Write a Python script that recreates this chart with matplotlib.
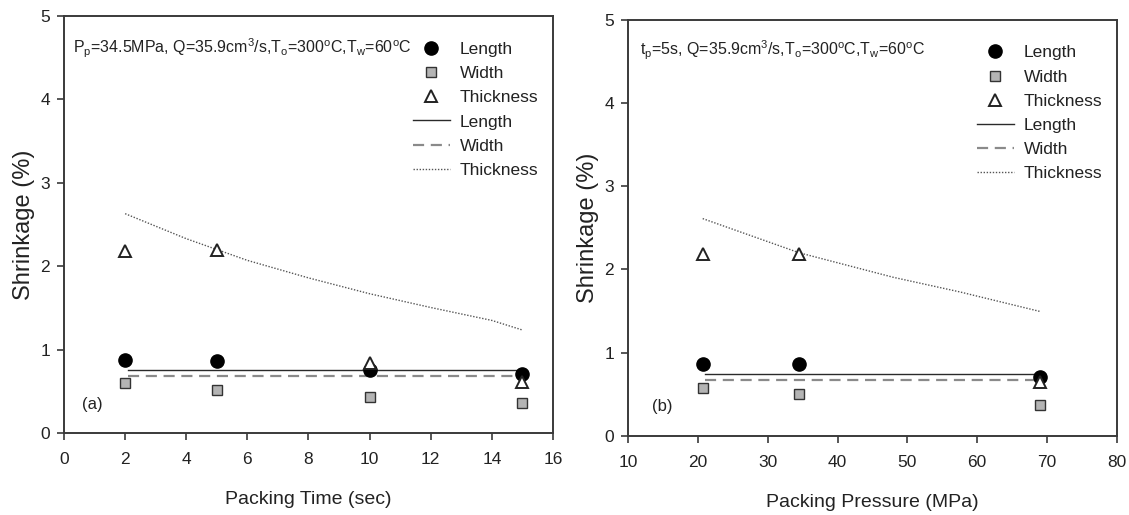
import matplotlib
matplotlib.use("Agg")
import matplotlib.pyplot as plt
from matplotlib.lines import Line2D

plt.rcParams['font.family'] = ['Liberation Sans', 'DejaVu Sans']
plt.rcParams['mathtext.default'] = 'regular'

# ---- data: panel (a) packing time ----
time_x = [2, 5, 10, 15]
time_length = [0.87, 0.86, 0.76, 0.71]
time_width = [0.60, 0.51, 0.43, 0.36]
time_thick = [2.18, 2.19, 0.84, 0.61]
time_line_x = [2.1, 15]
time_length_fit = [0.75, 0.75]
time_width_fit = [0.68, 0.68]
time_thick_fit_x = [2, 4, 6, 8, 10, 12, 14, 15]
time_thick_fit = [2.63, 2.33, 2.07, 1.86, 1.67, 1.505, 1.35, 1.235]

# ---- data: panel (b) packing pressure ----
pres_x = [20.7, 34.5, 69.0]
pres_length = [0.86, 0.86, 0.71]
pres_width = [0.58, 0.50, 0.37]
pres_thick = [2.19, 2.19, 0.65]
pres_line_x = [21.0, 69.0]
pres_length_fit = [0.74, 0.74]
pres_width_fit = [0.67, 0.67]
pres_thick_fit_x = [20.7, 34.5, 48.0, 57.5, 69.0]
pres_thick_fit = [2.61, 2.20, 1.905, 1.73, 1.495]

legend_labels = ['Length', 'Width', 'Thickness', 'Length', 'Width', 'Thickness']

fig = plt.figure(figsize=(11.29, 5.15), dpi=100)
ax1 = fig.add_axes([0.0567, 0.1592, 0.4331, 0.8097])
ax2 = fig.add_axes([0.5562, 0.1534, 0.4331, 0.8087])

spine_c = '#3a3a3a'
sq_face = '#b4b4b4'


def draw(ax, x, L, W, T, lx, lfit, wfit, tx, tfit):
    ax.plot(lx, lfit, color='#2a2a2a', lw=1.0, ls='-', zorder=2)
    ax.plot(lx, wfit, color='#8a8a8a', lw=1.6, ls=(0, (5, 3)), zorder=2)
    ax.plot(tx, tfit, color='#555555', lw=1.0, ls=(0, (1, 1.2)), zorder=2)
    ax.plot(x, W, ls='none', marker='s', ms=7.5, mfc=sq_face, mec='#333333', mew=1.0, zorder=3)
    ax.plot(x, L, ls='none', marker='o', ms=9.5, mfc='black', mec='black', zorder=4)
    ax.plot(x, T, ls='none', marker='^', ms=8, mfc='white', mec='#222222', mew=1.4, zorder=5)
    for s in ax.spines.values():
        s.set_color(spine_c)
        s.set_linewidth(1.4)
    ax.tick_params(direction='out', length=5, width=1.2, color=spine_c,
                   labelsize=12.5, labelcolor='#222222')
    ax.tick_params(axis='x', pad=9)
    ax.tick_params(axis='y', pad=5)
    ax.set_ylim(0, 5)
    ax.set_yticks([0, 1, 2, 3, 4, 5])

    handles = [
        Line2D([], [], ls='none', marker='o', ms=9.5, mfc='black', mec='black'),
        Line2D([], [], ls='none', marker='s', ms=7.5, mfc=sq_face, mec='#333333', mew=1.0),
        Line2D([], [], ls='none', marker='^', ms=8, mfc='white', mec='#222222', mew=1.4),
        Line2D([], [], color='#2a2a2a', lw=1.0, ls='-'),
        Line2D([], [], color='#8a8a8a', lw=1.6, ls=(0, (5, 3))),
        Line2D([], [], color='#555555', lw=1.0, ls=(0, (1, 1.2))),
    ]
    ax.legend(handles, legend_labels, loc='upper left', bbox_to_anchor=(0.714, 0.938),
              frameon=False, borderpad=0, borderaxespad=0, handlelength=2.1,
              handletextpad=0.6, labelspacing=0.52, fontsize=12.5, labelcolor='#222222')


draw(ax1, time_x, time_length, time_width, time_thick, time_line_x,
     time_length_fit, time_width_fit, time_thick_fit_x, time_thick_fit)
ax1.set_xlim(0, 16)
ax1.set_xticks(range(0, 17, 2))
ax1.set_xlabel('Packing Time (sec)', fontsize=14, color='#222222', labelpad=17)
ax1.set_ylabel('Shrinkage (%)', fontsize=17, color='#222222', labelpad=4)
ax1.text(0.019, 0.923, r'P$_{p}$=34.5MPa, Q=35.9cm$^{3}$/s,T$_{o}$=300$^{o}$C,T$_{w}$=60$^{o}$C',
         transform=ax1.transAxes, ha='left', va='center', fontsize=11.5, color='#222222')
ax1.text(0.036, 0.068, '(a)', transform=ax1.transAxes, ha='left', va='center',
         fontsize=12, color='#222222')

draw(ax2, pres_x, pres_length, pres_width, pres_thick, pres_line_x,
     pres_length_fit, pres_width_fit, pres_thick_fit_x, pres_thick_fit)
ax2.set_xlim(10, 80)
ax2.set_xticks(range(10, 81, 10))
ax2.set_xlabel('Packing Pressure (MPa)', fontsize=14, color='#222222', labelpad=17)
ax2.set_ylabel('Shrinkage (%)', fontsize=17, color='#222222', labelpad=4)
ax2.text(0.0245, 0.927, r't$_{p}$=5s, Q=35.9cm$^{3}$/s,T$_{o}$=300$^{o}$C,T$_{w}$=60$^{o}$C',
         transform=ax2.transAxes, ha='left', va='center', fontsize=11.5, color='#222222')
ax2.text(0.050, 0.072, '(b)', transform=ax2.transAxes, ha='left', va='center',
         fontsize=12, color='#222222')

fig.savefig('out.png', dpi=100, facecolor='white')
